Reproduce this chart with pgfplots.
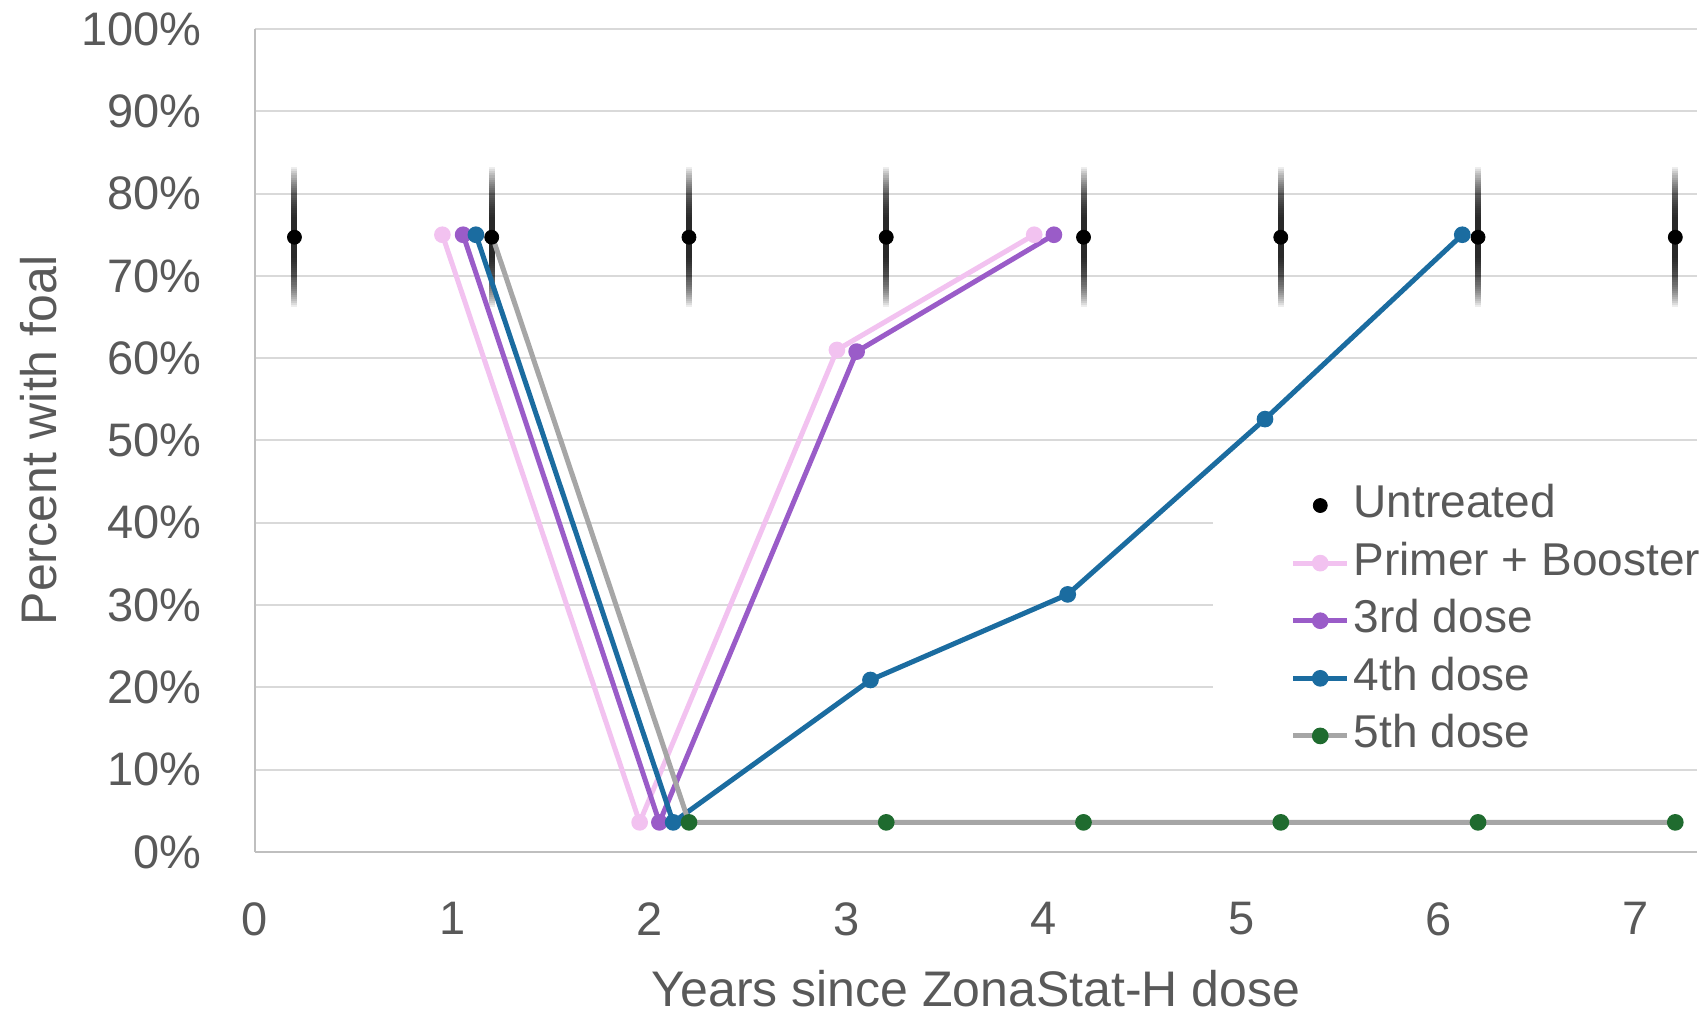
\documentclass[border=0pt]{standalone}
\usepackage{pgfplots}
\pgfplotsset{compat=1.18}
\usepackage{pgfplotstable}
\usepackage{fontspec}
\setmainfont{Liberation Sans}
\definecolor{txt}{HTML}{595959}
\definecolor{gridc}{HTML}{D9D9D9}
\definecolor{axc}{HTML}{BFBFBF}
\definecolor{pinkc}{HTML}{F2C2F0}
\definecolor{purp}{HTML}{9A5CC8}
\definecolor{bluec}{HTML}{1B6CA0}
\definecolor{grayc}{HTML}{A6A6A6}
\definecolor{greenc}{HTML}{1F6B2F}

\pgfplotsset{
  stdleg/.style={legend image code/.code={\draw[mark repeat=2,mark phase=2,##1] plot coordinates {(0bp,0bp) (13.5bp,0bp) (27bp,0bp)};}},
  fifthleg/.style={legend image code/.code={\draw[##1, mark indices={2}] plot coordinates {(0bp,0bp) (13.5bp,0bp) (27bp,0bp)};}},
}

\pgfplotstableread{
x y
0.2 74.7
1.2 74.7
2.2 74.7
3.2 74.7
4.2 74.7
5.2 74.7
6.2 74.7
7.2 74.7
}\untreated

\pgfplotstableread{
x y
0.95 75
1.95 3.6
2.95 61
3.95 75
}\primer

\pgfplotstableread{
x y
1.055 75
2.05 3.6
3.05 60.8
4.05 75
}\third

\pgfplotstableread{
x y
1.12 75
2.12 3.6
3.12 20.9
4.12 31.3
5.12 52.6
6.12 75
}\fourth

\pgfplotstableread{
x y
1.2 75
2.2 3.6
3.2 3.6
4.2 3.6
5.2 3.6
6.2 3.6
7.2 3.6
}\fifth

\begin{document}
\begin{tikzpicture}
\begin{axis}[
  name=ax,
  scale only axis, width=721bp, height=411.5bp,
  xmin=0, xmax=7.31, ymin=0, ymax=100,
  xtick={0,1,...,7}, ytick={0,10,...,100},
  axis x line=bottom, axis y line=left,
  axis line style={axc, line width=1bp, -},
  ymajorgrids, grid style={gridc, line width=1bp},
  major tick length=0pt,
  /pgf/number format/assume math mode=true,
  tick label style={font=\fontsize{23.5bp}{28bp}\selectfont, text=txt},
  yticklabel={\pgfmathprintnumber{\tick}\%},
  yticklabel style={inner sep=0pt, xshift=-26.5bp},
  xticklabel style={inner sep=0pt, yshift=-25bp},
  xlabel={Years since ZonaStat-H dose},
  ylabel={Percent with foal},
  label style={font=\fontsize{25bp}{30bp}\selectfont, text=txt, inner sep=0pt},
  xlabel style={at={(axis description cs:0.5,-0.1435)}, anchor=north},
  ylabel style={at={(axis description cs:-0.1373,0.5)}, anchor=south},
  legend style={at={(0.718,0.447)}, anchor=north west, draw=none, fill=none,
    font=\fontsize{23bp}{27bp}\selectfont, text=txt, inner sep=0pt, row sep=7.8bp,
    nodes={inner xsep=2bp, inner ysep=0pt, text height=16.5bp, text depth=4.5bp}},
  legend cell align=left,
  stdleg,
]
\fill[white] (rel axis cs:0.664,0.12) rectangle (rel axis cs:1,0.453);

% untreated error bars, layered so that they fade towards their ends
\pgfplotsinvokeforeach{8.5,8.25,8,7.75,7.5,7.25,7,6.75,6.5,6.25,6,5.75,5.5,5.25,5,4.75,4.5,4.25,4,3.75,3.5,3.25,3,2.75,2.5}{
\addplot[only marks, mark=none, forget plot, error bars/.cd, y dir=both, y fixed=#1, error mark=none,
  error bar style={draw=black, line width=3bp, opacity=0.07}] table {\untreated};
}

\addplot[only marks, mark=*, mark size=3.5bp, black] table {\untreated};
\addlegendentry{Untreated}
\addplot[pinkc, line width=2.5bp, mark=*, mark size=2.9bp, mark options={fill=pinkc, draw=pinkc}] table {\primer};
\addlegendentry{Primer + Booster}
\addplot[purp, line width=2.5bp, mark=*, mark size=2.9bp, mark options={fill=purp, draw=purp}] table {\third};
\addlegendentry{3rd dose}
\addplot[bluec, line width=2.5bp, mark=*, mark size=2.9bp, mark options={fill=bluec, draw=bluec}] table {\fourth};
\addlegendentry{4th dose}
\addplot[grayc, line width=2.5bp, mark=*, mark size=2.9bp, mark indices={2,3,4,5,6,7},
  mark options={fill=greenc, draw=greenc}, fifthleg] table {\fifth};
\addlegendentry{5th dose}
\end{axis}
\path ([xshift=-127.5bp,yshift=-82bp]ax.south west) rectangle ([xshift=4.5bp,yshift=14.5bp]ax.north east);
\end{tikzpicture}
\end{document}
